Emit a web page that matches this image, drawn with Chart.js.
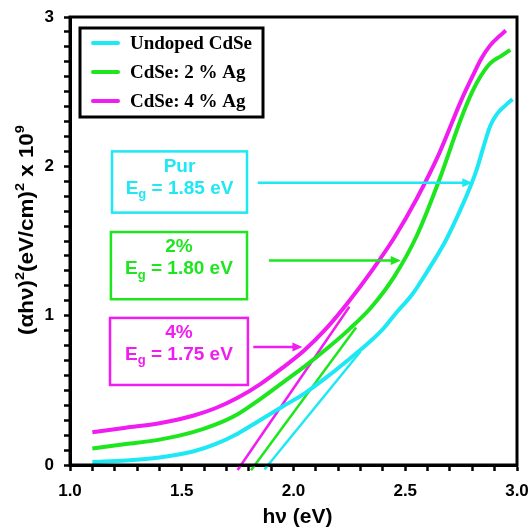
<!DOCTYPE html>
<html>
<head>
<meta charset="utf-8">
<script src="https://cdn.jsdelivr.net/npm/chart.js@4.4.1/dist/chart.umd.min.js"></script>
<style>
  html, body { margin: 0; padding: 0; background: #fff; }
  #wrap { width: 531px; height: 531px; }
</style>
</head>
<body>
<div id="wrap"><canvas id="myChart"></canvas></div>
<script>
// series
const seriesNames = ['Undoped CdSe', 'CdSe: 2 % Ag', 'CdSe: 4 % Ag']
const seriesColors = ['#1ee8f4', '#1ee61e', '#f01cf0']

const undopedX = [1.10, 1.25, 1.40, 1.55, 1.65, 1.75, 1.85, 1.95, 2.05, 2.15, 2.25, 2.33, 2.40, 2.46, 2.53, 2.60, 2.68, 2.75, 2.79, 2.82, 2.85, 2.88, 2.91, 2.95, 2.98]
const undopedY = [0.02, 0.03, 0.05, 0.09, 0.14, 0.21, 0.30, 0.39, 0.48, 0.59, 0.71, 0.81, 0.91, 1.02, 1.14, 1.30, 1.50, 1.72, 1.86, 1.98, 2.13, 2.27, 2.35, 2.41, 2.45]

const ag2X = [1.10, 1.25, 1.40, 1.55, 1.65, 1.75, 1.85, 1.95, 2.05, 2.15, 2.25, 2.35, 2.45, 2.55, 2.65, 2.75, 2.80, 2.84, 2.88, 2.93, 2.97]
const ag2Y = [0.11, 0.14, 0.17, 0.22, 0.27, 0.34, 0.44, 0.55, 0.66, 0.78, 0.91, 1.06, 1.26, 1.53, 1.90, 2.32, 2.50, 2.61, 2.69, 2.74, 2.78]

const ag4X = [1.10, 1.25, 1.40, 1.55, 1.65, 1.75, 1.85, 1.95, 2.05, 2.15, 2.25, 2.35, 2.45, 2.55, 2.65, 2.75, 2.80, 2.84, 2.88, 2.92, 2.95]
const ag4Y = [0.22, 0.25, 0.28, 0.33, 0.38, 0.45, 0.54, 0.65, 0.77, 0.92, 1.10, 1.30, 1.52, 1.78, 2.08, 2.44, 2.60, 2.72, 2.81, 2.87, 2.91]

// tangent lines (Tauc extrapolation), two end points each
const tangentX = [[1.87, 2.30], [1.81, 2.28], [1.75, 2.25]]
const tangentY = [[-0.03, 0.76], [-0.035, 0.92], [-0.033, 1.06]]

// annotation boxes (data units)
const boxTitles = ['Pur', '2%', '4%']
const boxGaps = ['1.85', '1.80', '1.75']
const boxLeft = [1.188, 1.183, 1.179]
const boxRight = [1.792, 1.792, 1.796]
const boxTop = [2.10, 1.56, 0.985]
const boxBottom = [1.69, 1.11, 0.536]

// arrows (data units)
const arrowFrom = [1.84, 1.89, 1.82]
const arrowTo = [2.80, 2.48, 2.04]
const arrowY = [1.89, 1.37, 0.79]

// axes
const xMin = 1.0, xMax = 3.0, xStep = 0.1, xLabelStep = 0.5
const yMin = 0, yMax = 3, yStep = 0.1, yLabelStep = 1

const sans = "'Liberation Sans', Arial, sans-serif"
const serif = "'Liberation Serif', 'Times New Roman', serif"

function isMultiple(v, step) {
    return Math.abs(v / step - Math.round(v / step)) < 1e-6
}

function toPoints(xs, ys) {
    return xs.map((x, i) => ({ x: x, y: ys[i] }))
}

const curves = [[undopedX, undopedY], [ag2X, ag2Y], [ag4X, ag4Y]]
const datasets = []
curves.forEach((c, i) => {
    datasets.push({
        label: seriesNames[i],
        data: toPoints(c[0], c[1]),
        borderColor: seriesColors[i],
        borderWidth: 4,
        pointRadius: 0,
        cubicInterpolationMode: 'monotone',
        fill: false
    })
})
tangentX.forEach((tx, i) => {
    datasets.push({
        label: seriesNames[i] + ' fit',
        data: toPoints(tx, tangentY[i]),
        borderColor: seriesColors[i],
        borderWidth: 2.5,
        pointRadius: 0,
        tension: 0,
        clip: false,
        fill: false
    })
})

// draws a text with subscript g: "E_g = 1.85 eV"
function drawGap(ctx, cx, cy, value) {
    const big = 'bold 19px ' + sans
    const small = 'bold 13px ' + sans
    const rest = ' = ' + value + ' eV'
    ctx.font = big
    const wE = ctx.measureText('E').width
    const wR = ctx.measureText(rest).width
    ctx.font = small
    const wG = ctx.measureText('g').width
    let x = cx - (wE + wG + wR) / 2
    ctx.textAlign = 'left'
    ctx.textBaseline = 'middle'
    ctx.font = big
    ctx.fillText('E', x, cy)
    x += wE
    ctx.font = small
    ctx.fillText('g', x, cy + 6)
    x += wG
    ctx.font = big
    ctx.fillText(rest, x, cy)
}

// draws a run of [text, isSuperscript] pieces centred on x
function drawRun(ctx, pieces, x, y, size) {
    let total = 0
    pieces.forEach(p => {
        ctx.font = 'bold ' + (p[1] ? Math.round(size * 0.65) : size) + 'px ' + sans
        total += ctx.measureText(p[0]).width
    })
    x -= total / 2
    pieces.forEach(p => {
        ctx.font = 'bold ' + (p[1] ? Math.round(size * 0.65) : size) + 'px ' + sans
        ctx.fillText(p[0], x, p[1] ? y - size * 0.35 : y)
        x += ctx.measureText(p[0]).width
    })
}

const decorations = {
    id: 'decorations',
    afterDraw(chart) {
        const { ctx, chartArea: a, scales } = chart
        const sx = scales.x, sy = scales.y
        ctx.save()

        // frame
        ctx.strokeStyle = '#000'
        ctx.lineWidth = 3
        ctx.strokeRect(a.left, a.top, a.right - a.left, a.bottom - a.top)

        // legend
        const lx = a.left + 10, ly = a.top + 11
        ctx.fillStyle = '#fff'
        ctx.fillRect(lx, ly, 183, 89)
        ctx.lineWidth = 3
        ctx.strokeStyle = '#000'
        ctx.strokeRect(lx, ly, 183, 89)
        seriesNames.forEach((name, i) => {
            const ry = ly + 15 + i * 29
            ctx.strokeStyle = seriesColors[i]
            ctx.lineWidth = 4
            ctx.lineCap = 'round'
            ctx.beginPath()
            ctx.moveTo(lx + 13, ry)
            ctx.lineTo(lx + 38, ry)
            ctx.stroke()
            ctx.fillStyle = '#000'
            ctx.font = 'bold 19px ' + serif
            ctx.textAlign = 'left'
            ctx.textBaseline = 'middle'
            ctx.fillText(name, lx + 50, ry + 1)
        })

        // gap boxes
        boxTitles.forEach((t, i) => {
            const l = sx.getPixelForValue(boxLeft[i])
            const r = sx.getPixelForValue(boxRight[i])
            const tp = sy.getPixelForValue(boxTop[i])
            const b = sy.getPixelForValue(boxBottom[i])
            ctx.strokeStyle = seriesColors[i]
            ctx.lineWidth = 2.5
            ctx.strokeRect(l, tp, r - l, b - tp)
            ctx.fillStyle = seriesColors[i]
            ctx.font = 'bold 19px ' + sans
            ctx.textAlign = 'center'
            ctx.textBaseline = 'middle'
            ctx.fillText(t, (l + r) / 2, tp + 15)
            drawGap(ctx, (l + r) / 2, tp + 37, boxGaps[i])
        })

        // arrows
        arrowFrom.forEach((f, i) => {
            const x0 = sx.getPixelForValue(f)
            const x1 = sx.getPixelForValue(arrowTo[i])
            const yy = sy.getPixelForValue(arrowY[i])
            ctx.strokeStyle = seriesColors[i]
            ctx.fillStyle = seriesColors[i]
            ctx.lineWidth = 2.5
            ctx.lineCap = 'butt'
            ctx.beginPath()
            ctx.moveTo(x0, yy)
            ctx.lineTo(x1 - 6, yy)
            ctx.stroke()
            ctx.beginPath()
            ctx.moveTo(x1, yy)
            ctx.lineTo(x1 - 10, yy - 4.5)
            ctx.lineTo(x1 - 10, yy + 4.5)
            ctx.closePath()
            ctx.fill()
        })

        // axis titles
        ctx.fillStyle = '#000'
        ctx.textAlign = 'left'
        ctx.textBaseline = 'middle'
        drawRun(ctx, [['h\u03bd (eV)', false]], (a.left + a.right) / 2 + 4, 517, 21)
        ctx.save()
        ctx.translate(27, 230)
        ctx.rotate(-Math.PI / 2)
        ctx.scale(1.12, 1)
        drawRun(ctx, [['(\u03b1h\u03bd)', false], ['2', true], ['(eV/cm)', false], ['2', true], [' x 10', false], ['9', true]], 0, 0, 20)
        ctx.restore()

        ctx.restore()
    }
}

const tickFont = { family: sans, size: 17, weight: 'bold' }

const config = {
    type: 'line',
    data: { datasets: datasets },
    options: {
        responsive: false,
        animation: false,
        layout: { padding: { top: 17, right: 14, left: 0, bottom: 0 } },
        plugins: { legend: { display: false }, tooltip: { enabled: false } },
        scales: {
            x: {
                type: 'linear',
                min: xMin,
                max: xMax,
                afterFit: s => {
                    s.height = 66
                    s.paddingLeft = 0
                    s.paddingRight = 0
                },
                ticks: {
                    stepSize: xStep,
                    autoSkip: false,
                    maxRotation: 0,
                    padding: 10,
                    color: '#000',
                    font: tickFont,
                    callback: v => isMultiple(v, xLabelStep) ? Number(v).toFixed(1) : ''
                },
                grid: {
                    drawOnChartArea: false,
                    drawTicks: true,
                    tickLength: 6,
                    tickColor: '#000',
                    tickWidth: 2.5
                },
                border: { display: true, color: '#000', width: 3 }
            },
            y: {
                type: 'linear',
                min: yMin,
                max: yMax,
                afterFit: s => {
                    s.width = 70
                    s.paddingTop = 0
                    s.paddingBottom = 0
                },
                ticks: {
                    stepSize: yStep,
                    autoSkip: false,
                    padding: 10,
                    color: '#000',
                    font: tickFont,
                    callback: v => isMultiple(v, yLabelStep) ? String(Math.round(v)) : ''
                },
                grid: {
                    drawOnChartArea: false,
                    drawTicks: true,
                    tickLength: 6,
                    tickColor: '#000',
                    tickWidth: 2.5
                },
                border: { display: true, color: '#000', width: 3 }
            }
        }
    },
    plugins: [decorations]
}

const canvas = document.getElementById('myChart')
canvas.width = 531
canvas.height = 531
const myChart = new Chart(canvas, config)
</script>
</body>
</html>
